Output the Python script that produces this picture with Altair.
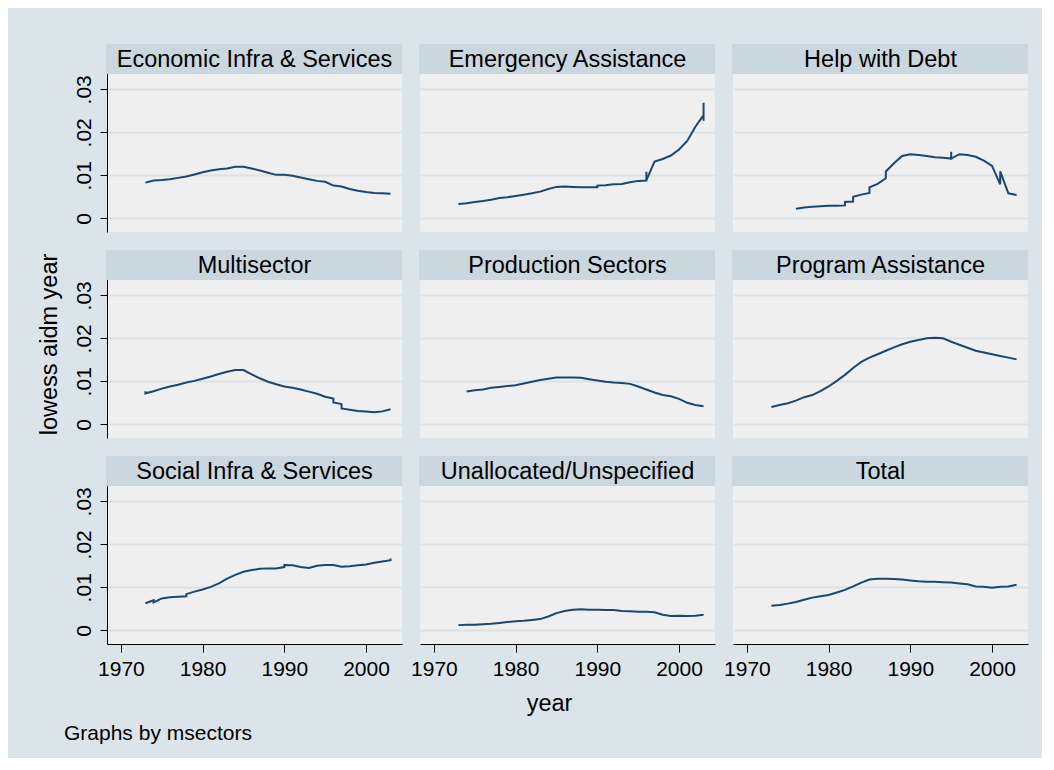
import altair as alt
import pandas as pd

FONT = "Liberation Sans"
BG = "#dbe4e8"
HEADER = "#cad7de"
PLOTBG = "#efefef"
GRID = "#d9e2e6"
LINE = "#1a476f"

sectors = ["Economic Infra & Services", "Emergency Assistance", "Help with Debt",
           "Multisector", "Production Sectors", "Program Assistance",
           "Social Infra & Services", "Unallocated/Unspecified", "Total"]

x_ticks = [1970, 1980, 1990, 2000]
y_ticks = [0, 0.01, 0.02, 0.03]

econ_years = list(range(1973, 2004))
econ_vals = [.0083, .0088, .0089, .0091, .0094, .0097, .0102, .0107, .0111, .0114, .0116,
             .0120, .0120, .0116, .0111, .0106, .0101, .0101, .0099, .0095, .0091, .0087,
             .0085, .0076, .0074, .0068, .0064, .0061, .0059, .0058, .0057]

emerg_years = [1973, 1974, 1975, 1976, 1977, 1978, 1979, 1980, 1981, 1982, 1983, 1984, 1985,
               1986, 1987, 1988, 1989, 1990, 1990, 1991, 1992, 1993, 1994, 1995, 1996, 1996,
               1996, 1997, 1998, 1999, 2000, 2001, 2002, 2003, 2003, 2003]
emerg_vals = [.0033, .0035, .0038, .0040, .0043, .0047, .0049, .0052, .0055, .0058, .0062, .0068,
              .0073, .0074, .0073, .0072, .0072, .0072, .0076, .0077, .0079, .0080, .0084, .0087,
              .0088, .0108, .0088, .0132, .0138, .0146, .0160, .0180, .0213, .0240, .0269, .0227]

debt_years = [1976, 1977, 1978, 1979, 1980, 1981, 1982, 1982, 1983, 1983, 1984, 1985, 1985,
              1986, 1987, 1987, 1988, 1989, 1990, 1991, 1992, 1993, 1994, 1995, 1995, 1995,
              1996, 1997, 1998, 1999, 2000, 2001, 2001, 2002, 2003]
debt_vals = [.0022, .0025, .0027, .0028, .0029, .0029, .0030, .0038, .0039, .0050, .0055, .0059,
             .0072, .0080, .0093, .0109, .0128, .0145, .0149, .0147, .0145, .0142, .0141, .0139,
             .0155, .0139, .0149, .0147, .0143, .0134, .0122, .0079, .0109, .0058, .0054]

multi_years = [1973, 1973, 1974, 1975, 1976, 1977, 1978, 1979, 1980, 1981, 1982, 1983, 1984,
               1985, 1986, 1987, 1988, 1989, 1990, 1991, 1992, 1993, 1994, 1995, 1996, 1996,
               1997, 1997, 1998, 1999, 2000, 2001, 2002, 2003]
multi_vals = [.0077, .0072, .0077, .0083, .0088, .0092, .0097, .0101, .0106, .0111, .0117, .0122,
              .0126, .0126, .0116, .0107, .0099, .0093, .0088, .0085, .0081, .0076, .0071, .0064,
              .0060, .0051, .0047, .0037, .0034, .0031, .0030, .0028, .0030, .0035]

prod_years = list(range(1974, 2004))
prod_vals = [.0076, .0079, .0081, .0085, .0087, .0089, .0091, .0095, .0099, .0103, .0106, .0109,
             .0109, .0109, .0108, .0105, .0102, .0099, .0097, .0096, .0094, .0088, .0081, .0074,
             .0068, .0065, .0059, .0050, .0045, .0042]

prog_years = list(range(1973, 2004))
prog_vals = [.0040, .0045, .0049, .0055, .0063, .0068, .0077, .0088, .0101, .0115, .0131, .0145,
             .0155, .0163, .0171, .0179, .0186, .0192, .0196, .0200, .0201, .0200, .0192, .0185,
             .0178, .0171, .0167, .0163, .0159, .0155, .0151]

social_years = [1973, 1974, 1974, 1975, 1976, 1977, 1978, 1978, 1979, 1980, 1981, 1982, 1983,
                1984, 1985, 1986, 1987, 1988, 1989, 1990, 1990, 1991, 1992, 1993, 1994, 1995,
                1996, 1997, 1998, 1999, 2000, 2001, 2002, 2003, 2003]
social_vals = [.0063, .0070, .0065, .0074, .0077, .0078, .0079, .0084, .0090, .0095, .0101, .0109,
               .0120, .0129, .0136, .0140, .0143, .0144, .0144, .0147, .0152, .0151, .0147, .0145,
               .0150, .0152, .0152, .0148, .0149, .0151, .0153, .0157, .0160, .0163, .0167]

unall_years = list(range(1973, 2004))
unall_vals = [.0012, .0013, .0013, .0014, .0015, .0017, .0019, .0021, .0022, .0024, .0026, .0032,
              .0040, .0045, .0048, .0049, .0048, .0048, .0047, .0047, .0045, .0044, .0043, .0043,
              .0042, .0036, .0033, .0034, .0033, .0034, .0036]

total_years = list(range(1973, 2004))
total_vals = [.0057, .0059, .0062, .0066, .0071, .0076, .0079, .0082, .0088, .0094, .0102, .0111,
              .0118, .0120, .0120, .0119, .0118, .0116, .0114, .0113, .0113, .0112, .0111, .0109,
              .0107, .0102, .0101, .0099, .0101, .0102, .0106]

series = [(econ_years, econ_vals), (emerg_years, emerg_vals), (debt_years, debt_vals),
          (multi_years, multi_vals), (prod_years, prod_vals), (prog_years, prog_vals),
          (social_years, social_vals), (unall_years, unall_vals), (total_years, total_vals)]

rows = []
for name, (ys, vs) in zip(sectors, series):
    for k, (yr, v) in enumerate(zip(ys, vs)):
        rows.append({"sector": name, "year": yr, "value": v, "order": k})
df = pd.DataFrame(rows)

W = 295
HH = 30     # header band height
PH = 158    # plot height
H = HH + PH
y_lo, y_hi = -0.00319, 0.03356
y_top = y_lo + (y_hi - y_lo) * H / PH

xscale = alt.Scale(domain=[1968.3, 2004.4], nice=False, zero=False)
yscale = alt.Scale(domain=[y_lo, y_top], nice=False, zero=False)

label_expr = "datum.value == 0 ? '0' : substring(format(datum.value, '.2f'), 1)"
TICK_FS = 21
TITLE_FS = 23.5


def panel(i):
    name = sectors[i]
    r, c = divmod(i, 3)
    if c == 0:
        yaxis = alt.Axis(values=y_ticks, labelExpr=label_expr, labelAngle=270,
                         labelAlign="center", labelBaseline="alphabetic",
                         labelFontSize=TICK_FS, labelFont=FONT, labelColor="black",
                         labelPadding=10, tickSize=7, tickColor="black",
                         domainColor="black", grid=True, gridColor=GRID, gridWidth=1.8,
                         titleFontSize=TITLE_FS, titleFont=FONT, titleFontWeight="normal",
                         titleColor="black", titlePadding=12,
                         titleOpacity=1 if r == 1 else 0)
        ytitle = "lowess aidm year"
    else:
        yaxis = alt.Axis(values=y_ticks, labels=False, ticks=False, domain=False,
                         grid=True, gridColor=GRID, gridWidth=1.8)
        ytitle = None
    if r == 2:
        xaxis = alt.Axis(values=x_ticks, format="d", labelFontSize=TICK_FS, labelFont=FONT,
                         labelColor="black", labelPadding=6, tickSize=8, tickColor="black",
                         domainColor="black", grid=False,
                         titleFontSize=TITLE_FS, titleFont=FONT, titleFontWeight="normal",
                         titleColor="black", titlePadding=12, titleX=129)
        xtitle = "year" if c == 1 else None
    else:
        xaxis = None
        xtitle = None

    line = alt.Chart(df).transform_filter(alt.datum.sector == name).mark_line(
        color=LINE, strokeWidth=2
    ).encode(
        x=alt.X("year:Q", scale=xscale, axis=xaxis, title=xtitle),
        y=alt.Y("value:Q", scale=yscale, axis=yaxis, title=ytitle),
        order="order:Q",
    )
    band = alt.Chart(alt.Data(values=[{"k": 1}])).mark_rect(color=HEADER).encode(
        x=alt.value(-1), x2=alt.value(W), y=alt.value(0), y2=alt.value(HH)
    )
    label = alt.Chart(alt.Data(values=[{"label": name}])).mark_text(
        font=FONT, fontSize=23.5, color="black", align="center", baseline="middle"
    ).encode(text="label:N", x=alt.value(W / 2), y=alt.value(HH / 2 + 1))
    return alt.layer(line, band, label).properties(width=W, height=H)


grid_rows = [alt.hconcat(*[panel(3 * r + c) for c in range(3)], spacing=18, bounds="flush")
             for r in range(3)]

chart = alt.vconcat(*grid_rows, spacing=18).properties(
    background=BG,
    padding={"left": 29, "top": 36, "right": 14, "bottom": 14},
    title=alt.TitleParams("Graphs by msectors", orient="bottom", anchor="start",
                          font=FONT, fontSize=21, fontWeight="normal", color="black",
                          offset=8, dx=27),
).configure_view(fill=PLOTBG, strokeWidth=0)

chart.save("out.html", embed_options={"renderer": "svg", "actions": False})
